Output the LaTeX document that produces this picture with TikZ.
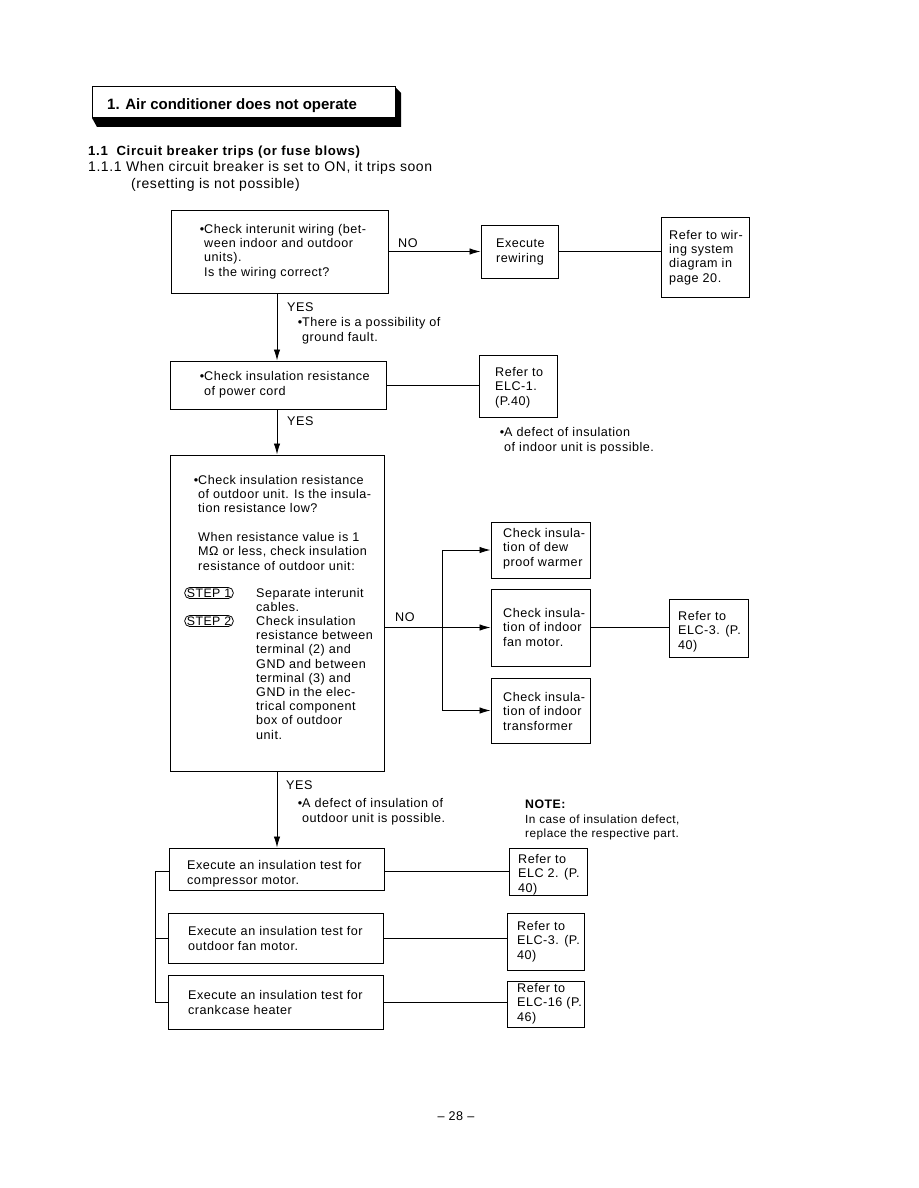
\documentclass[tikz,border=0pt]{standalone}
\usepackage{fontspec}
\setmainfont{Liberation Sans}[LetterSpace=4]
\usetikzlibrary{arrows.meta,fit}
\begin{document}
\begin{tikzpicture}[x=1pt,y=-1pt,
  box/.style={draw, line width=1pt, inner sep=0pt},
  txt/.style={anchor=base west, inner sep=0pt, align=left, font=\fontsize{12.6}{14.3}\selectfont},
  small/.style={anchor=base west, inner sep=0pt, align=left, font=\fontsize{11.8}{14}\selectfont},
  steplabel/.style={draw, line width=0.8pt, rounded corners=5pt, inner xsep=2pt, inner ysep=1.2pt, font=\fontsize{12.3}{14}\selectfont},
  ln/.style={line width=0.9pt},
  arr/.style={line width=0.9pt, -{Latex[length=11pt,width=6.5pt]}}]
\useasboundingbox (0,0) rectangle (918,1188);
\fill[white] (0,0) rectangle (918,1188);

% header
\fill (395,87) -- (401,93) -- (401,127) -- (97,127) -- (92,118) -- (395,118) -- cycle;
\node[box, fill=white, fit={(92,87)(395,118)}] (hdr) {};
\node[txt, font=\bfseries\fontsize{15}{17}\selectfont\addfontfeature{LetterSpace=0}] (title) at (107,110) {1. Air conditioner does not operate};
\node[txt, font=\bfseries\fontsize{13.2}{16}\selectfont\addfontfeature{LetterSpace=5}] (sub1) at (88,155) {1.1 \ Circuit breaker trips (or fuse blows)};
\node[txt, font=\fontsize{14}{16.3}\selectfont] (sub2) at (88,188) {1.1.1 When circuit breaker is set to ON, it trips soon\\\hspace*{43pt}(resetting is not possible)};

% coordinates for vertical trunk
\coordinate (cx) at (277,0);
\coordinate (bx) at (442,0);
\coordinate (lx) at (155,0);

% boxes
\node[box, fit={(171,210)(388,293)}] (b1) {};
\node[box, fit={(481,225)(558,278)}] (exe) {};
\node[box, fit={(661,217)(749,297)}] (ref1) {};
\node[box, fit={(170,361)(386,409)}] (b2) {};
\node[box, fit={(479,355)(557,417)}] (elc1) {};
\node[box, fit={(170,455)(384,771)}] (b3) {};
\node[box, fit={(491,522)(590,578)}] (dew) {};
\node[box, fit={(491,589)(590,666)}] (fan) {};
\node[box, fit={(491,678)(590,743)}] (trf) {};
\node[box, fit={(669,599)(748,657)}] (elc3) {};
\node[box, fit={(169,848)(384,890)}] (b4) {};
\node[box, fit={(509,848)(587,895)}] (r4) {};
\node[box, fit={(168,913)(383,963)}] (b5) {};
\node[box, fit={(507,913)(584,970)}] (r5) {};
\node[box, fit={(168,975)(383,1029)}] (b6) {};
\node[box, fit={(507,981)(584,1027)}] (r6) {};

% texts (anchor = baseline of the last line)
\node[txt] (t1) at (204,276) {\llap{•}Check interunit wiring (bet-\\ween indoor and outdoor\\units).\\Is the wiring correct?};
\node[txt] (no1) at (398,247) {NO};
\node[txt] (texe) at (496,262) {Execute\\rewiring};
\node[txt] (tref1) at (669,282) {Refer to wir-\\ing system\\diagram in\\page 20.};
\node[txt] (yes1) at (287,311) {YES};
\node[txt] (gf) at (302,341) {\llap{•}There is a possibility of\\ground fault.};
\node[txt] (t2) at (204,395) {\llap{•}Check insulation resistance\\of power cord};
\node[txt] (yes2) at (287,425) {YES};
\node[txt] (telc1) at (495,405) {Refer to\\ELC-1.\\(P.40)};
\node[txt] (indef) at (504,451) {\llap{•}A defect of insulation\\of indoor unit is possible.};
\node[txt] (t3) at (198,570) {\llap{•}Check insulation resistance\\of outdoor unit. Is the insula-\\tion resistance low?\\[14.3pt]When resistance value is 1\\MΩ or less, check insulation\\resistance of outdoor unit:};
\node[txt, font=\fontsize{12.6}{14.2}\selectfont] (t3s) at (256,739) {Separate interunit\\cables.\\Check insulation\\resistance between\\terminal (2) and\\GND and between\\terminal (3) and\\GND in the elec-\\trical component\\box of outdoor\\unit.};
\node[steplabel] (s1) at (209,593) {STEP 1};
\node[steplabel] (s2) at (209,621) {STEP 2};
\node[txt] (no2) at (395,621) {NO};
\node[txt] (tdew) at (503,566) {Check insula-\\tion of dew\\proof warmer};
\node[txt] (tfan) at (503,646) {Check insula-\\tion of indoor\\fan motor.};
\node[txt] (ttrf) at (503,730) {Check insula-\\tion of indoor\\transformer};
\node[txt] (telc3) at (678,649) {Refer to\\ELC-3. (P.\\40)};
\node[txt] (yes3) at (286,789) {YES};
\node[txt] (outdef) at (302,822) {\llap{•}A defect of insulation of\\outdoor unit is possible.};
\node[txt, font=\bfseries\fontsize{12.3}{14}\selectfont] (note) at (525,808) {NOTE:};
\node[small] (notet) at (525,837) {In case of insulation defect,\\replace the respective part.};
\node[txt] (t4) at (187,884) {Execute an insulation test for\\compressor motor.};
\node[txt] (tr4) at (518,892) {Refer to\\ELC 2. (P.\\40)};
\node[txt] (t5) at (188,950) {Execute an insulation test for\\outdoor fan motor.};
\node[txt] (tr5) at (517,959) {Refer to\\ELC-3. (P.\\40)};
\node[txt] (t6) at (188,1014) {Execute an insulation test for\\crankcase heater};
\node[txt] (tr6) at (517,1021) {Refer to\\ELC-16 (P.\\46)};
\node[anchor=base, inner sep=0pt, font=\fontsize{12.6}{14}\selectfont] (pg) at (456,1120) {– 28 –};

% connectors
\draw[arr] (b1.east |- exe.west) -- (exe.west);
\draw[ln] (exe.east) -- (exe.east -| ref1.west);
\draw[arr] (b1.south -| cx) -- (b2.north -| cx);
\draw[ln] (b2.east) -- (b2.east -| elc1.west);
\draw[arr] (b2.south -| cx) -- (b3.north -| cx);
\draw[arr] (b3.east |- fan.west) -- (fan.west);
\draw[arr] (fan.west -| bx) |- (dew.west);
\draw[arr] (fan.west -| bx) |- (trf.west);
\draw[ln] (fan.east) -- (fan.east -| elc3.west);
\draw[arr] (b3.south -| cx) -- (b4.north -| cx);
\draw[ln] (b4.east |- r4.west) -- (r4.west);
\draw[ln] (b5.east) -- (b5.east -| r5.west);
\draw[ln] (b6.east) -- (b6.east -| r6.west);
\draw[ln] (b4.west |- r4.west) -- (r4.west -| lx) -- (b6.west -| lx) -- (b6.west);
\draw[ln] (b5.west -| lx) -- (b5.west);
\end{tikzpicture}
\end{document}
